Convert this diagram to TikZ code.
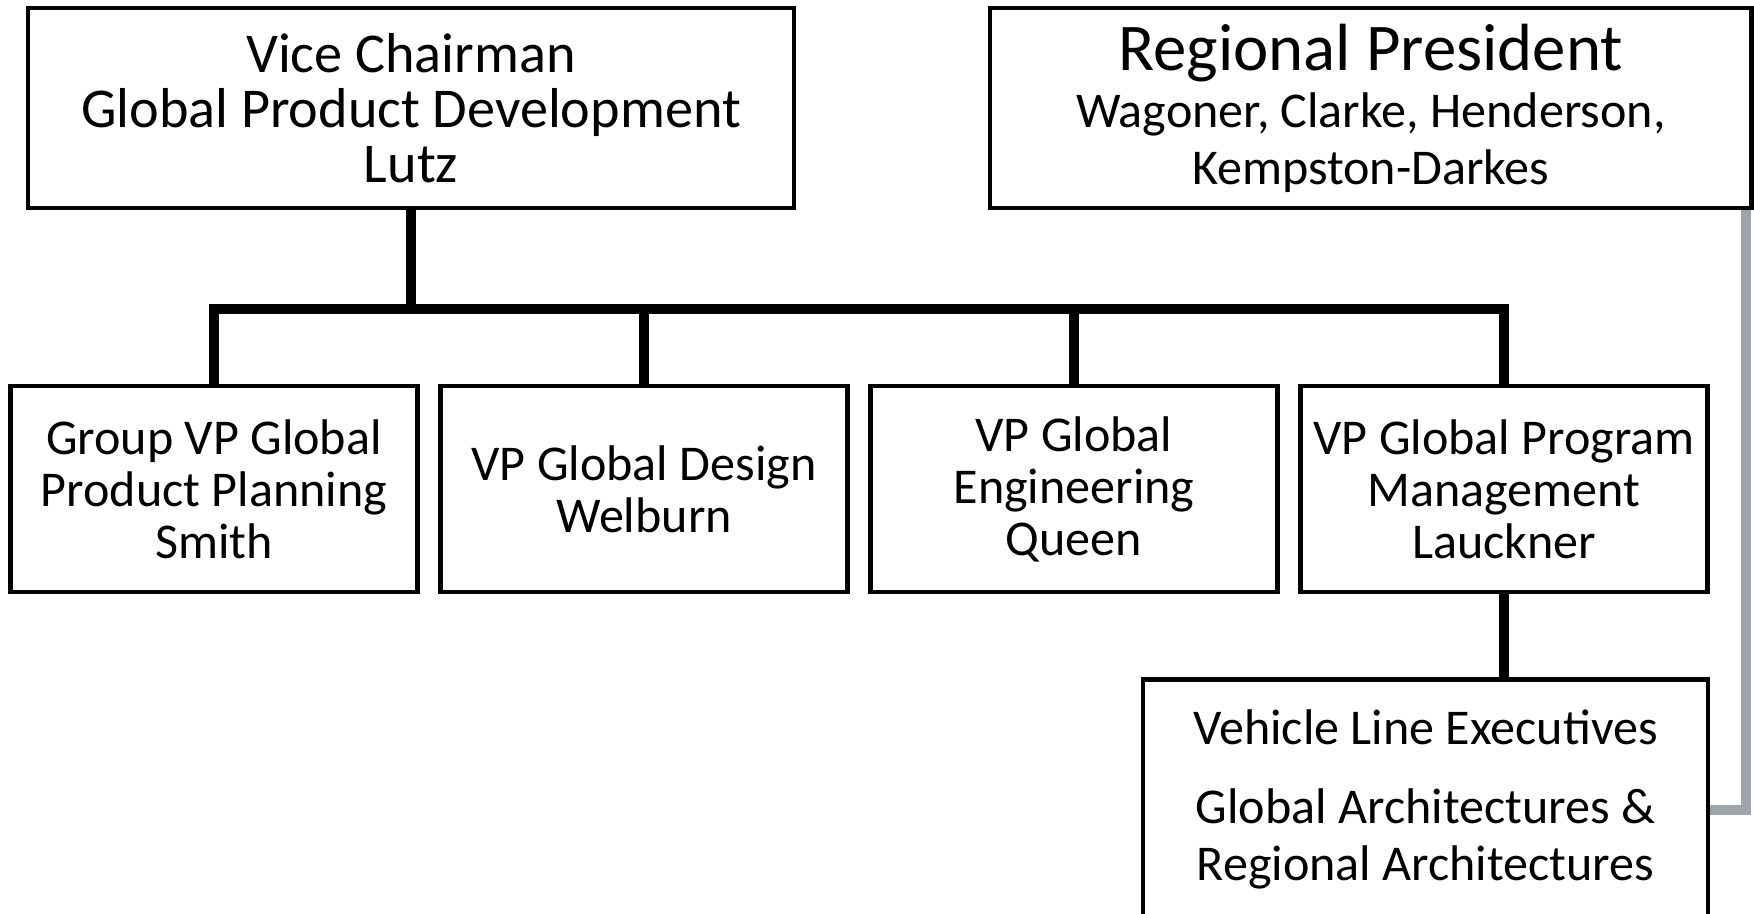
\documentclass[tikz,border=0pt]{standalone}
\usepackage{fontspec}
\setmainfont{Carlito}
\usetikzlibrary{positioning}
\definecolor{linkgray}{RGB}{158,164,167}

\begin{document}
\begin{tikzpicture}[line join=miter,
	box/.style={draw,line width=2.8pt,inner sep=0pt,align=center},
	unitbox/.style={box,minimum width=8.14cm,minimum height=4.12cm,font=\fontsize{28.5}{29.6}\selectfont},
	link/.style={line width=0.2cm},
	feed/.style={line width=0.2cm,linkgray}]
	\useasboundingbox (0,0) rectangle (35.08,18.28);

	\node [box,minimum width=15.32cm,minimum height=4cm,font=\fontsize{32}{31.3}\selectfont] at (8.22,16.12) (vc) {Vice Chairman\\Global Product Development\\Lutz};
	\node [box,minimum width=15.23cm,minimum height=4cm,font=\fontsize{28.5}{32.4}\selectfont] at (27.415,16.12) (rp) {{\fontsize{38}{32.4}\selectfont Regional President}\\Wagoner, Clarke, Henderson,\\Kempston-Darkes};

	\foreach [count=\n] \t in {{Group VP Global\\Product Planning\\Smith},{VP Global Design\\Welburn},{VP Global\\Engineering\\Queen},{VP Global Program\\Management\\Lauckner}}{
		\node [unitbox] at ({4.28+8.6*(\n-1)},8.5) (vp \n) {\t};
	}

	\node [box,minimum width=11.3cm,minimum height=5.24cm,anchor=north] at (28.51,4.74) (vle) {};
	\node [align=center,inner sep=0pt,font=\fontsize{28.5}{32.4}\selectfont,below=0.65cm of vle.north] (vle text) {Vehicle Line Executives\\[12.6pt]Global Architectures \&\\Regional Architectures};

	\coordinate (bus) at (vc.south |- 0,12.1);
	\draw [link] (vc) to (bus);
	\draw [link] (vp 1) |- (bus) -| (vp 4);
	\foreach \n in {2,3}{
		\draw [link] (vp \n) to (vp \n |- bus);
	}
	\draw [link] (vp 4) to (vp 4 |- vle.north);

	\coordinate (gray top) at ([xshift=-0.15cm]rp.south east);
	\draw [feed] (gray top) |- (vle);

\end{tikzpicture}
\end{document}
